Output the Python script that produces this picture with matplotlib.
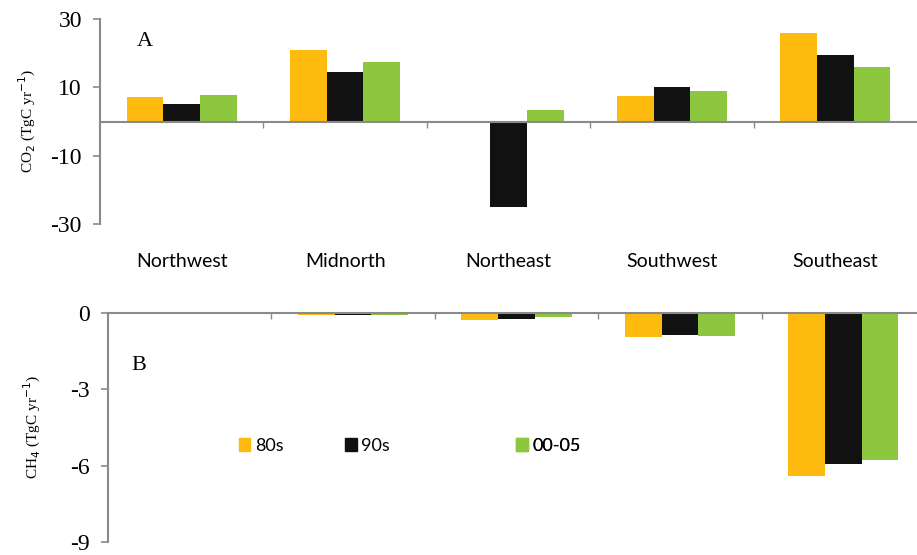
import matplotlib
matplotlib.use("Agg")
import matplotlib.pyplot as plt
from matplotlib.patches import Patch
import numpy as np

categories = ["Northwest", "Midnorth", "Northeast", "Southwest", "Southeast"]
series = ["80s", "90s", "00-05"]
co2_80s = [7.2, 20.8, -0.3, 7.5, 25.8]
co2_90s = [5.0, 14.4, -25.0, 10.0, 19.4]
co2_0005 = [7.7, 17.4, 3.5, 8.9, 15.9]
ch4_80s = [-0.05, -0.08, -0.28, -0.95, -6.4]
ch4_90s = [-0.01, -0.06, -0.22, -0.87, -5.93]
ch4_0005 = [-0.01, -0.06, -0.15, -0.90, -5.77]
co2_ticks = [-30, -10, 10, 30]
ch4_ticks = [-9, -6, -3, 0]

colors = ["#FFBA0F", "#111111", "#8DC63F"]
grey = "#8a8a8a"
serif = "Liberation Serif"
sans = "Lato"

W, H = 917, 555
fig = plt.figure(figsize=(W / 100, H / 100), dpi=100)

def box(l, r, t, b):
    return [l / W, 1 - b / H, (r - l) / W, (b - t) / H]

ax1 = fig.add_axes(box(100, 917, 19, 224))
ax2 = fig.add_axes(box(108, 925, 313, 542))

x = np.arange(len(categories))
bw = 0.225
bounds = np.arange(len(categories) + 1) - 0.5

def style(ax, ticks, ylim, ylabel):
    ax.set_xlim(-0.5, len(categories) - 0.5)
    ax.set_ylim(*ylim)
    ax.set_yticks(ticks)
    ax.set_yticklabels([str(t) for t in ticks], fontfamily=serif, fontsize=17)
    ax.tick_params(axis="y", colors=grey, labelcolor="black", length=5, width=1.2, pad=8)
    for s in ["top", "right"]:
        ax.spines[s].set_visible(False)
    ax.spines["left"].set_color(grey)
    ax.spines["left"].set_linewidth(1.5)
    ax.set_ylabel(ylabel, fontfamily=serif, fontsize=11)

# Top panel
for i, vals in enumerate([co2_80s, co2_90s, co2_0005]):
    ax1.bar(x + (i - 1) * bw, vals, width=bw, color=colors[i], zorder=2)
style(ax1, co2_ticks, (-30, 30), "CO$_2$ (TgC yr$^{-1}$)")
ax1.spines["bottom"].set_position(("data", 0))
ax1.spines["bottom"].set_color(grey)
ax1.spines["bottom"].set_linewidth(1.5)
ax1.set_xticks(bounds[1:-1])
ax1.set_xticklabels([])
ax1.tick_params(axis="x", colors=grey, length=4, width=1)
sec = ax1.secondary_xaxis(-0.13)
sec.set_xticks(x)
sec.set_xticklabels(categories, fontfamily=sans, fontsize=14)
sec.tick_params(length=0, pad=2)
sec.spines["bottom"].set_visible(False)
ax1.yaxis.set_label_coords(-0.076, 0.5)
ax1.text(0.045, 0.87, "A", transform=ax1.transAxes, fontfamily=serif, fontsize=16)

# Bottom panel
for i, vals in enumerate([ch4_80s, ch4_90s, ch4_0005]):
    ax2.bar(x + (i - 1) * bw, vals, width=bw, color=colors[i], zorder=2)
style(ax2, ch4_ticks, (-9, 0), "CH$_4$ (TgC yr$^{-1}$)")
ax2.spines["bottom"].set_visible(False)
ax2.spines["top"].set_visible(True)
ax2.spines["top"].set_color(grey)
ax2.spines["top"].set_linewidth(1.5)
ax2.xaxis.tick_top()
ax2.set_xticks(bounds[1:-1])
ax2.set_xticklabels([])
ax2.tick_params(axis="x", colors=grey, length=4, width=1, direction="in")
ax2.yaxis.set_label_coords(-0.08, 0.5)
ax2.text(0.028, 0.75, "B", transform=ax2.transAxes, fontfamily=serif, fontsize=16)

# Legend entries
leg_pos = [(0.14, 0.42), (0.27, 0.42), (0.48, 0.42)]
for i, (lab, pos) in enumerate(zip(series, leg_pos)):
    lg = ax2.legend([Patch(color=colors[i])], [lab], loc="center left",
                    bbox_to_anchor=pos, frameon=False, handlelength=0.65,
                    handleheight=0.65, handletextpad=0.25,
                    prop={"family": sans, "size": 13})
    ax2.add_artist(lg)

fig.savefig("out.png", dpi=100)
